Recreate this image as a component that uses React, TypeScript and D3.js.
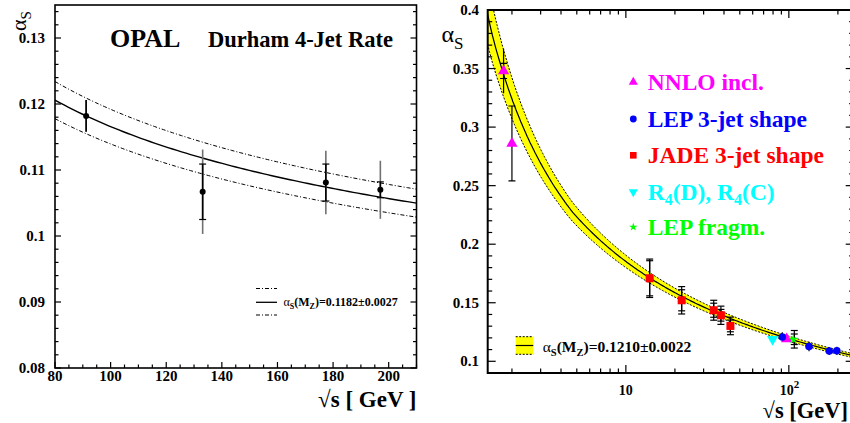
import React from "react";
import * as d3 from "d3";

// ---------- physics constants / fit parameters ----------
const MZ = 91.1876;
const opalFitCentral = 0.1182;
const opalFitErr = 0.0027;
const worldFitCentral = 0.121;
const worldFitErr = 0.0022;

// ---------- left panel data: OPAL Durham 4-jet rate ----------
const opalEnergy = [91.2, 133.1, 177.4, 197.0];
const opalAlpha = [0.1182, 0.1067, 0.1081, 0.107];
const opalErrStat = [0.0024, 0.0042, 0.0028, 0.0012];
const opalErrTot = [0.0024, 0.0064, 0.0048, 0.0044];

const leftXTicks = [80, 100, 120, 140, 160, 180, 200];
const leftYTicks = [0.08, 0.09, 0.1, 0.11, 0.12, 0.13];
const leftYTickLabels = ["0.08", "0.09", "0.1", "0.11", "0.12", "0.13"];

// ---------- right panel data ----------
const nnloEnergy = [1.777, 2.0, 97.0];
const nnloAlpha = [0.348, 0.286, 0.119];
const nnloErrIn = [0.0065, 0, 0];
const nnloErrOut = [0.019, 0.032, 0];

const lep3Energy = [91.2, 133, 177, 197];
const lep3Alpha = [0.1208, 0.1126, 0.1088, 0.109];
const lep3ErrOut = [0.004, 0.004, 0.0035, 0.0035];

const jadeEnergy = [14, 22, 34.6, 38.3, 43.8];
const jadeAlpha = [0.1709, 0.1521, 0.1436, 0.1393, 0.1302];
const jadeErrIn = [0.015, 0.009, 0.006, 0.005, 0.005];
const jadeErrOut = [0.0164, 0.0117, 0.0085, 0.0078, 0.0075];

const r4Energy = [79.5];
const r4Alpha = [0.1188];

const fragEnergy = [106.5];
const fragAlpha = [0.1188];
const fragErrIn = [0.0045];
const fragErrOut = [0.0075];

const rightYTicks = [0.1, 0.15, 0.2, 0.25, 0.3, 0.35, 0.4];
const rightYTickLabels = ["0.1", "0.15", "0.2", "0.25", "0.3", "0.35", "0.4"];

// ---------- QCD running (3-loop, flavour thresholds) ----------
function nfAt(q: number) {
  return q > 4.7 ? 5 : q > 1.5 ? 4 : 3;
}
function beta(a: number, nf: number) {
  const b0 = (11 - (2 * nf) / 3) / (4 * Math.PI);
  const b1 = (102 - (38 * nf) / 3) / (16 * Math.PI * Math.PI);
  const b2 = (2857 / 2 - (5033 * nf) / 18 + (325 * nf * nf) / 54) / (64 * Math.PI ** 3);
  return -(b0 * a * a + b1 * a ** 3 + b2 * a ** 4);
}
function runAlpha(aMz: number, q: number) {
  const t0 = Math.log(MZ * MZ);
  const t1 = Math.log(q * q);
  const n = 300;
  const h = (t1 - t0) / n;
  let a = aMz;
  let t = t0;
  for (let i = 0; i < n; i++) {
    const nf = nfAt(Math.exp((t + h / 2) / 2));
    const k1 = beta(a, nf);
    const k2 = beta(a + (h / 2) * k1, nf);
    const k3 = beta(a + (h / 2) * k2, nf);
    const k4 = beta(a + h * k3, nf);
    a += (h / 6) * (k1 + 2 * k2 + 2 * k3 + k4);
    t += h;
  }
  return a;
}

const FONT = "'Liberation Serif', 'Times New Roman', serif";

// ---------- scales ----------
const L = { x0: 55, x1: 416.5, y0: 5, y1: 368 };
const xL = d3.scaleLinear().domain([80, 210]).range([L.x0, L.x1]);
const yL = d3.scaleLinear().domain([0.08, 0.135]).range([L.y1, L.y0]);

const R = { x0: 487.7, x1: 853.7, y0: 10, y1: 373 };
const xR = d3.scaleLog().domain([1.42, 250]).range([R.x0, R.x1]);
const yR = d3.scaleLinear().domain([0.09, 0.4]).range([R.y1, R.y0]);

function ErrBar({ x, y, eIn, eOut, sy, caps, outColor, inColor, w }: any) {
  const els: any[] = [];
  if (eOut > 0)
    els.push(<line key="o" x1={x} x2={x} y1={sy(y + eOut)} y2={sy(y - eOut)} stroke={outColor} strokeWidth={w} />);
  if (eIn > 0)
    els.push(<line key="i" x1={x} x2={x} y1={sy(y + eIn)} y2={sy(y - eIn)} stroke={inColor} strokeWidth={w} />);
  if (caps) {
    const c: number[] = [];
    if (eIn > 0 && eIn < eOut) c.push(eIn, -eIn);
    if (caps === "both" && eOut > 0) c.push(eOut, -eOut);
    c.forEach((e, k) =>
      els.push(<line key={"c" + k} x1={x - 3.5} x2={x + 3.5} y1={sy(y + e)} y2={sy(y + e)} stroke={inColor} strokeWidth={1.2} />)
    );
  }
  return <g>{els}</g>;
}

export default function App() {
  // left curves
  const qLeft = d3.range(0, 81).map((i) => 80 + (130 * i) / 80);
  const lineL = d3
    .line<number[]>()
    .x((d) => xL(d[0]))
    .y((d) => yL(d[1]));
  const curveL = (a: number) => lineL(qLeft.map((q) => [q, runAlpha(a, q)]));

  // right curves
  const qRight = d3.range(0, 241).map((i) => 1.3 * Math.pow(270 / 1.3, i / 240));
  const central = qRight.map((q) => [q, runAlpha(worldFitCentral, q)]);
  const hi = qRight.map((q) => [q, runAlpha(worldFitCentral + worldFitErr, q)]);
  const lo = qRight.map((q) => [q, runAlpha(worldFitCentral - worldFitErr, q)]);
  const lineR = d3
    .line<number[]>()
    .x((d) => xR(d[0]))
    .y((d) => yR(d[1]));
  const bandArea = d3
    .area<number>()
    .x((i) => xR(qRight[i]))
    .y0((i) => yR(lo[i][1]))
    .y1((i) => yR(hi[i][1]));

  // left ticks
  const lxMinor = d3.range(80, 211, 5);
  const lyMinor = d3.range(0, 28).map((i) => 0.08 + i * 0.002);
  // right ticks
  const rxMinor: number[] = [];
  [1, 10, 100].forEach((dec) => {
    for (let k = 1; k <= 9; k++) {
      const v = k * dec;
      if (v >= 1.42 && v <= 250) rxMinor.push(v);
    }
  });
  const ryMinor = d3.range(0, 32).map((i) => 0.09 + i * 0.01);

  const tri = d3.symbol().type(d3.symbolTriangle).size(55)() as string;
  const triSmall = d3.symbol().type(d3.symbolTriangle).size(36)() as string;
  const star = d3.symbol().type(d3.symbolStar).size(30)() as string;
  const starSmall = d3.symbol().type(d3.symbolStar).size(22)() as string;

  const tickTxt = { fontFamily: FONT, fontWeight: "bold", fontSize: 15, fill: "#000" } as any;
  const legTxt = { fontFamily: FONT, fontWeight: "bold", fontSize: 23.5 } as any;

  return (
    <div style={{ position: "fixed", left: 0, top: 0 }}>
      <svg width={850} height={423} style={{ display: "block", background: "#fff" }}>
        <defs>
          <clipPath id="clipL">
            <rect x={L.x0} y={L.y0} width={L.x1 - L.x0} height={L.y1 - L.y0} />
          </clipPath>
          <clipPath id="clipR">
            <rect x={R.x0} y={R.y0} width={R.x1 - R.x0} height={R.y1 - R.y0} />
          </clipPath>
        </defs>

        {/* ================= LEFT PANEL ================= */}
        <g clipPath="url(#clipL)">
          <path d={curveL(opalFitCentral + opalFitErr) || ""} fill="none" stroke="#000" strokeWidth={1} strokeDasharray="4,2,1,2" />
          <path d={curveL(opalFitCentral - opalFitErr) || ""} fill="none" stroke="#000" strokeWidth={1} strokeDasharray="4,2,1,2" />
          <path d={curveL(opalFitCentral) || ""} fill="none" stroke="#000" strokeWidth={1.4} />
        </g>
        {opalEnergy.map((e, i) => (
          <g key={"op" + i}>
            <ErrBar x={xL(e)} y={opalAlpha[i]} eIn={opalErrStat[i]} eOut={opalErrTot[i]} sy={yL} caps="inner" outColor="#707070" inColor="#000" w={1.6} />
            <circle cx={xL(e)} cy={yL(opalAlpha[i])} r={3} fill="#000" />
          </g>
        ))}
        {/* left frame & ticks */}
        <rect x={L.x0} y={L.y0} width={L.x1 - L.x0} height={L.y1 - L.y0} fill="none" stroke="#000" strokeWidth={1.6} />
        {lxMinor.map((v) => {
          const major = v % 20 === 0;
          const len = major ? 6 : 3.5;
          return <line key={"lx" + v} x1={xL(v)} x2={xL(v)} y1={L.y1} y2={L.y1 - len} stroke="#000" strokeWidth={1.2} />;
        })}
        {lyMinor.map((v, i) => {
          const major = i % 5 === 0;
          const len = major ? 6 : 3.5;
          return (
            <g key={"ly" + i}>
              <line x1={L.x0} x2={L.x0 + len} y1={yL(v)} y2={yL(v)} stroke="#000" strokeWidth={1.2} />
              <line x1={L.x1} x2={L.x1 - len} y1={yL(v)} y2={yL(v)} stroke="#000" strokeWidth={1.2} />
            </g>
          );
        })}
        {leftXTicks.map((v) => (
          <text key={"lxt" + v} x={xL(v)} y={381} textAnchor="middle" style={tickTxt}>
            {v}
          </text>
        ))}
        {leftYTicks.map((v, i) => (
          <text key={"lyt" + v} x={45} y={yL(v) + 5} textAnchor="end" style={tickTxt}>
            {leftYTickLabels[i]}
          </text>
        ))}
        <text transform="translate(26,31) rotate(-90)" style={{ fontFamily: FONT, fontSize: 22 }}>
          α<tspan dy={5} fontSize={15}>S</tspan>
        </text>
        <text x={416.5} y={406.5} textAnchor="end" style={{ fontFamily: FONT, fontWeight: "bold", fontSize: 23 }}>
          √s [ GeV ]
        </text>
        <text x={110} y={46.5} style={{ fontFamily: FONT, fontWeight: "bold", fontSize: 26 }}>
          OPAL
        </text>
        <text x={208} y={46.5} style={{ fontFamily: FONT, fontWeight: "bold", fontSize: 22.5 }}>
          Durham 4-Jet Rate
        </text>
        {/* left legend */}
        <line x1={256} x2={277} y1={288.5} y2={288.5} stroke="#000" strokeWidth={1} strokeDasharray="4,2,1,2" />
        <line x1={256} x2={277} y1={302.3} y2={302.3} stroke="#000" strokeWidth={1.3} />
        <line x1={256} x2={277} y1={315} y2={315} stroke="#000" strokeWidth={1} strokeDasharray="4,2,1,2" />
        <text x={283.5} y={306} style={{ fontFamily: FONT, fontWeight: "bold", fontSize: 12 }}>
          <tspan fontWeight="normal">α</tspan>
          <tspan dy={3} fontSize={8}>S</tspan>
          <tspan dy={-3}>(M</tspan>
          <tspan dy={3} fontSize={8}>Z</tspan>
          <tspan dy={-3}>)=0.1182±0.0027</tspan>
        </text>

        {/* ================= RIGHT PANEL ================= */}
        <g clipPath="url(#clipR)">
          <path d={bandArea(d3.range(qRight.length)) || ""} fill="#ffff00" stroke="none" />
          <path d={lineR(hi) || ""} fill="none" stroke="#000" strokeWidth={1} strokeDasharray="2,1.5" />
          <path d={lineR(lo) || ""} fill="none" stroke="#000" strokeWidth={1} strokeDasharray="2,1.5" />
          <path d={lineR(central) || ""} fill="none" stroke="#000" strokeWidth={1.2} />

          {/* error bars */}
          {nnloEnergy.map((e, i) => (
            <ErrBar key={"nne" + i} x={xR(e)} y={nnloAlpha[i]} eIn={nnloErrIn[i]} eOut={nnloErrOut[i]} sy={yR} caps={nnloErrIn[i] > 0 ? "inner" : "both"} outColor="#000" inColor="#000" w={1.2} />
          ))}
          {jadeEnergy.map((e, i) => (
            <ErrBar key={"jae" + i} x={xR(e)} y={jadeAlpha[i]} eIn={jadeErrIn[i]} eOut={jadeErrOut[i]} sy={yR} caps="both" outColor="#000" inColor="#000" w={1.2} />
          ))}
          {lep3Energy.map((e, i) => (
            <ErrBar key={"l3e" + i} x={xR(e)} y={lep3Alpha[i]} eIn={0} eOut={lep3ErrOut[i]} sy={yR} caps={false} outColor="#000" inColor="#000" w={1.2} />
          ))}
          {fragEnergy.map((e, i) => (
            <ErrBar key={"fre" + i} x={xR(e) + 1} y={fragAlpha[i]} eIn={fragErrIn[i]} eOut={fragErrOut[i]} sy={yR} caps="both" outColor="#000" inColor="#000" w={1.2} />
          ))}

          {/* markers */}
          {nnloEnergy.map((e, i) => (
            <path key={"nn" + i} d={tri} transform={`translate(${xR(e)},${yR(nnloAlpha[i])})`} fill="#ff00ff" />
          ))}
          {lep3Energy.map((e, i) => (
            <circle key={"l3" + i} cx={xR(e)} cy={yR(lep3Alpha[i])} r={3.8} fill="#0000ff" />
          ))}
          {jadeEnergy.map((e, i) => (
            <rect key={"ja" + i} x={xR(e) - 4} y={yR(jadeAlpha[i]) - 4} width={8} height={8} fill="#ff0000" />
          ))}
          {r4Energy.map((e, i) => (
            <path key={"r4" + i} d={tri} transform={`translate(${xR(e)},${yR(r4Alpha[i])}) rotate(180)`} fill="#00ffff" />
          ))}
          {fragEnergy.map((e, i) => (
            <path key={"fr" + i} d={star} transform={`translate(${xR(e)},${yR(fragAlpha[i])})`} fill="#00ff00" />
          ))}
        </g>

        {/* right frame & ticks */}
        <rect x={R.x0} y={R.y0} width={R.x1 - R.x0} height={R.y1 - R.y0} fill="none" stroke="#000" strokeWidth={2} />
        {rxMinor.map((v) => {
          const major = v === 10 || v === 100;
          const len = major ? 8 : 4.5;
          return (
            <g key={"rx" + v}>
              <line x1={xR(v)} x2={xR(v)} y1={R.y1} y2={R.y1 - len} stroke="#000" strokeWidth={1.2} />
              <line x1={xR(v)} x2={xR(v)} y1={R.y0} y2={R.y0 + len} stroke="#000" strokeWidth={1.2} />
            </g>
          );
        })}
        {ryMinor.map((v, i) => {
          const major = (i + 4) % 5 === 0;
          const len = major ? 8 : 4.5;
          return (
            <g key={"ry" + i}>
              <line x1={R.x0} x2={R.x0 + len} y1={yR(v)} y2={yR(v)} stroke="#000" strokeWidth={1.2} />
              <line x1={R.x1} x2={R.x1 - len} y1={yR(v)} y2={yR(v)} stroke="#000" strokeWidth={1.2} />
            </g>
          );
        })}
        {rightYTicks.map((v, i) => (
          <text key={"ryt" + v} x={479} y={yR(v) + 5} textAnchor="end" style={tickTxt}>
            {rightYTickLabels[i]}
          </text>
        ))}
        <text x={xR(10)} y={394.5} textAnchor="middle" style={{ ...tickTxt, fontSize: 14 }}>
          10
        </text>
        <text x={xR(100) - 9} y={394.5} style={{ ...tickTxt, fontSize: 14 }}>
          10<tspan dy={-7} fontSize={11}>2</tspan>
        </text>
        <text x={848} y={418} textAnchor="end" style={{ fontFamily: FONT, fontWeight: "bold", fontSize: 22.5 }}>
          √s [GeV]
        </text>
        <text x={441.5} y={42} style={{ fontFamily: FONT, fontSize: 24 }}>
          α<tspan dy={7} fontSize={17}>S</tspan>
        </text>

        {/* right legend (series) */}
        <path d={triSmall} transform="translate(633.3,82)" fill="#ff00ff" />
        <text x={647.7} y={90} style={{ ...legTxt, fill: "#ff00ff" }}>NNLO incl.</text>
        <circle cx={633.3} cy={119} r={3.4} fill="#0000ff" />
        <text x={647.7} y={126.7} style={{ ...legTxt, fill: "#0000ff" }}>LEP 3-jet shape</text>
        <rect x={630} y={152} width={6.6} height={6.6} fill="#ff0000" />
        <text x={647.7} y={163.3} style={{ ...legTxt, fill: "#ff0000" }}>JADE 3-jet shape</text>
        <path d={triSmall} transform="translate(633.3,192) rotate(180)" fill="#00ffff" />
        <text x={647.7} y={200} style={{ ...legTxt, fill: "#00ffff" }}>
          R<tspan dy={5} fontSize={16}>4</tspan>
          <tspan dy={-5}>(D), R</tspan>
          <tspan dy={5} fontSize={16}>4</tspan>
          <tspan dy={-5}>(C)</tspan>
        </text>
        <path d={starSmall} transform="translate(633.3,227)" fill="#00ff00" />
        <text x={647.7} y={235} style={{ ...legTxt, fill: "#00ff00" }}>LEP fragm.</text>

        {/* right legend (fit band) */}
        <rect x={515.7} y={336.7} width={17.6} height={17.6} fill="#ffff00" />
        <line x1={515.7} x2={533.3} y1={336.7} y2={336.7} stroke="#000" strokeWidth={1} strokeDasharray="2,1.5" />
        <line x1={515.7} x2={533.3} y1={354.3} y2={354.3} stroke="#000" strokeWidth={1} strokeDasharray="2,1.5" />
        <line x1={515.7} x2={533.3} y1={345.5} y2={345.5} stroke="#000" strokeWidth={1.2} />
        <text x={542.7} y={351.5} style={{ fontFamily: FONT, fontWeight: "bold", fontSize: 15.5 }}>
          <tspan fontWeight="normal">α</tspan>
          <tspan dy={4} fontSize={10.5}>S</tspan>
          <tspan dy={-4}>(M</tspan>
          <tspan dy={4} fontSize={10.5}>Z</tspan>
          <tspan dy={-4}>)=0.1210±0.0022</tspan>
        </text>
      </svg>
    </div>
  );
}
